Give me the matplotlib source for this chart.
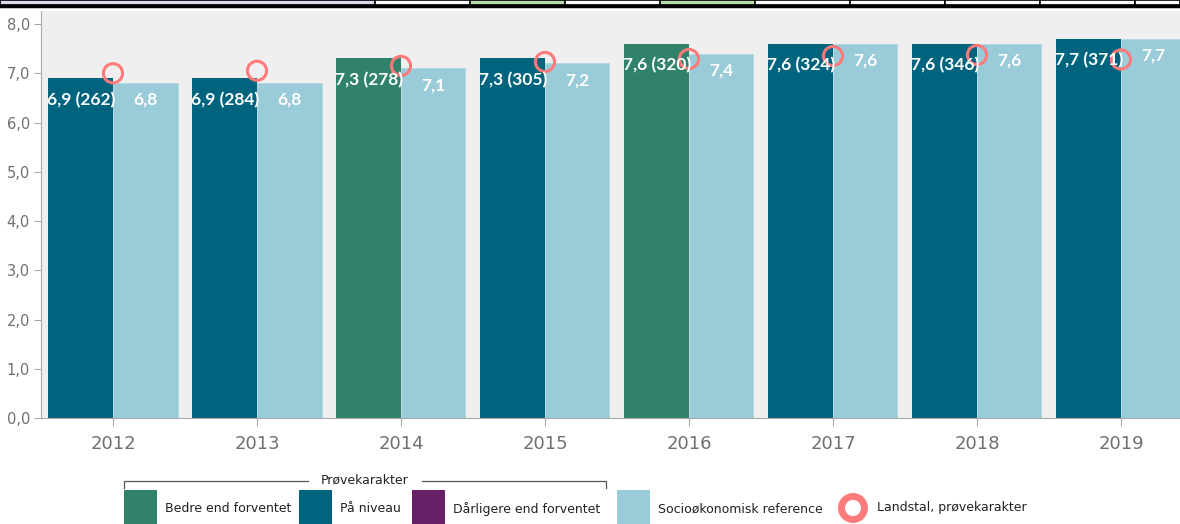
import matplotlib.pyplot as plt
import numpy as np
from matplotlib.patches import Rectangle, Circle

# Data
years = ["2012", "2013", "2014", "2015", "2016", "2017", "2018", "2019"]
school = [6.9, 6.9, 7.3, 7.3, 7.6, 7.6, 7.6, 7.7]
pupils = [262, 284, 278, 305, 320, 324, 346, 371]
status = ["niveau", "niveau", "bedre", "niveau", "bedre", "niveau", "niveau", "niveau"]
reference = [6.8, 6.8, 7.1, 7.2, 7.4, 7.6, 7.6, 7.7]
landstal = [7.0, 7.05, 7.15, 7.23, 7.29, 7.35, 7.37, 7.28]

status_colors = {"bedre": "#31826a", "niveau": "#00647e", "darligere": "#662066"}
ref_color = "#9acbd8"
dot_color = "#ff7a7a"

legend_labels = ["Bedre end forventet", "På niveau", "Dårligere end forventet",
                 "Socioøkonomisk reference", "Landstal, prøvekarakter"]

def fmt(v):
    return f"{v:.1f}".replace(".", ",")

fig = plt.figure(figsize=(11.8, 5.24), dpi=100)
ax = fig.add_axes([41 / 1180, 106 / 524, 1 - 41 / 1180, 407 / 524])
ax.set_facecolor("#efefef")

x = np.arange(len(years))
w = 0.448
ax.bar(x - w / 2, school, width=w, color=[status_colors[s] for s in status], zorder=2)
ax.bar(x + w / 2, reference, width=w, color=ref_color, edgecolor="#b3d9e3",
       linewidth=0.6, zorder=2)
ax.scatter(x, landstal, s=190, facecolors="none", edgecolors=dot_color,
           linewidths=2.2, zorder=4)

for xi, v, n in zip(x, school, pupils):
    ax.text(xi - w / 2, v - 0.44, f"{fmt(v)} ({n})", color="white", ha="center",
            va="center", fontsize=12.5, fontweight="bold", family="Lato", zorder=5)
for xi, v in zip(x, reference):
    ax.text(xi + w / 2, v - 0.34, fmt(v), color="white", ha="center",
            va="center", fontsize=12.5, fontweight="bold", family="Lato", zorder=5)

ax.set_xlim(-0.5, 7.41)
ax.set_ylim(0, 8.264)
ax.set_xticks(x)
ax.set_xticklabels(years, fontsize=13, color="#707070")
yt = np.arange(0, 9)
ax.set_yticks(yt)
ax.set_yticklabels([fmt(v) for v in yt], fontsize=10.5, color="#707070")
ax.tick_params(axis="x", length=6, color="#aaaaaa", pad=6)
ax.tick_params(axis="y", length=5, color="#aaaaaa", pad=3)
for side in ["top", "right"]:
    ax.spines[side].set_visible(False)
for side in ["left", "bottom"]:
    ax.spines[side].set_color("#aaaaaa")

# overlay in pixel coordinates for legend and the cropped table strip above
ov = fig.add_axes([0, 0, 1, 1], zorder=10)
ov.set_xlim(0, 1180)
ov.set_ylim(524, 0)
ov.axis("off")

# cropped table row at the very top
cells = [(0, 375, "#dcd7ee"), (375, 470, "white"), (470, 565, "#b7dba7"),
         (565, 660, "white"), (660, 755, "#b7dba7"), (755, 850, "white"),
         (850, 945, "white"), (945, 1040, "white"), (1040, 1135, "white"),
         (1135, 1180, "white")]
for a, b, c in cells:
    ov.add_patch(Rectangle((a, 0), b - a, 5, facecolor=c, edgecolor="black", linewidth=1.2))
ov.plot([0, 1180], [5.5, 5.5], color="black", lw=2.5)

# legend
ov.plot([124, 124, 308], [488, 481, 481], color="#555555", lw=0.9)
ov.plot([422, 606, 606], [481, 481, 488], color="#555555", lw=0.9)
ov.text(365, 480, "Prøvekarakter", ha="center", va="center", fontsize=9,
        color="#222222")
patch_x = [124, 299, 412, 617]
patch_c = [status_colors["bedre"], status_colors["niveau"], status_colors["darligere"], ref_color]
for px, pc, lab in zip(patch_x, patch_c, legend_labels[:4]):
    ov.add_patch(Rectangle((px, 490), 33, 36, facecolor=pc, edgecolor="none"))
    ov.text(px + 41, 509, lab, va="center", fontsize=9, color="#222222")
ov.add_patch(Circle((853, 508), 11.5, facecolor="white", edgecolor=dot_color, linewidth=5))
ov.text(877, 508, legend_labels[4], va="center", fontsize=9, color="#222222")

fig.savefig("out.png", dpi=100)
